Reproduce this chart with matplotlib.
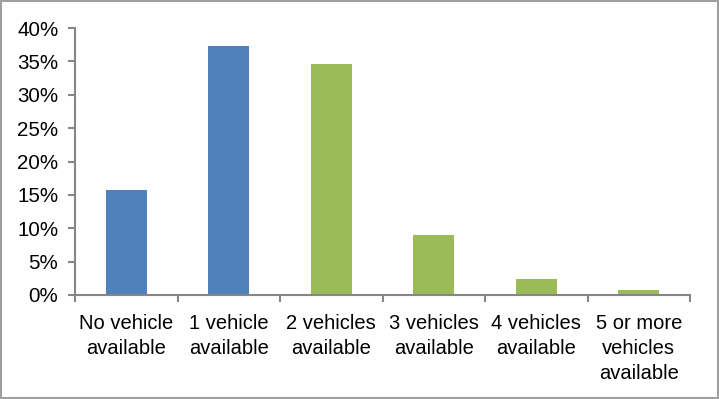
import matplotlib
matplotlib.use("Agg")
import matplotlib.pyplot as plt
from matplotlib.ticker import PercentFormatter, FixedLocator
from matplotlib.patches import Rectangle

categories = ["No vehicle\navailable", "1 vehicle\navailable", "2 vehicles\navailable",
              "3 vehicles\navailable", "4 vehicles\navailable", "5 or more\nvehicles\navailable"]
values = [15.8, 37.3, 34.6, 9.0, 2.4, 0.75]
colors = ["#4F81BD", "#4F81BD", "#9BBB59", "#9BBB59", "#9BBB59", "#9BBB59"]
yticks = [0, 5, 10, 15, 20, 25, 30, 35, 40]

plt.rcParams['font.family'] = ['Liberation Sans', 'DejaVu Sans']

fig = plt.figure(figsize=(7.19, 3.99), dpi=100)
ax = fig.add_axes([75/719, 1-295/399, (690-75)/719, (295-28)/399])

x = list(range(len(categories)))
ax.bar(x, values, width=0.4, color=colors, zorder=2)

ax.set_xlim(-0.5, len(categories)-0.5)
ax.set_ylim(0, 40)
ax.set_yticks(yticks)
ax.yaxis.set_major_formatter(PercentFormatter(decimals=0))

ax.set_xticks(x)
ax.set_xticklabels(categories, fontsize=14.5, linespacing=1.38)
ax.xaxis.set_minor_locator(FixedLocator([i - 0.5 for i in range(len(categories)+1)]))
ax.tick_params(axis='x', which='major', length=0, pad=14)
ax.tick_params(axis='x', which='minor', length=5, width=1.5, color='#868686', direction='out')
ax.tick_params(axis='y', length=5, width=1.5, color='#868686', direction='out', labelsize=14.8, pad=7)

for s in ['top', 'right']:
    ax.spines[s].set_visible(False)
for s in ['left', 'bottom']:
    ax.spines[s].set_color('#868686')
    ax.spines[s].set_linewidth(1.5)

fig.patches.append(Rectangle((0.001, 0.002), 0.997, 0.996, transform=fig.transFigure,
                             fill=False, edgecolor='#A0A0A0', linewidth=1.5))

fig.savefig("out.png", dpi=100)
